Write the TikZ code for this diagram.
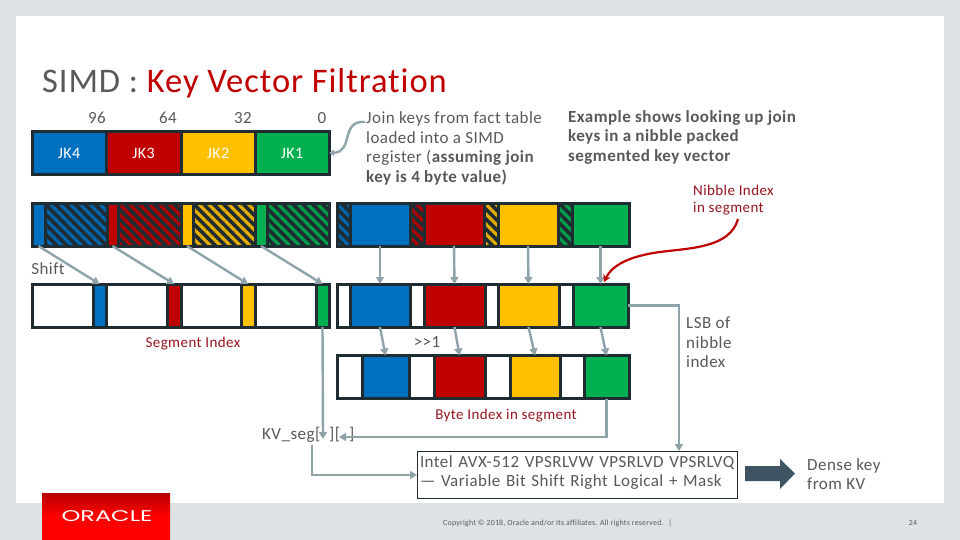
\documentclass[tikz,border=0pt]{standalone}
\usepackage{fontspec}
\setmainfont[LetterSpace=2.7, Ligatures=NoCommon]{Carlito}
\newfontfamily\logofont{Poppins}
\usepackage{tikz}
\usetikzlibrary{arrows.meta, patterns.meta}
\usepackage{xcolor}
\definecolor{slidegrey}{RGB}{221, 227, 229}
\definecolor{barframe}{RGB}{31, 45, 51}
\definecolor{barblue}{RGB}{0, 112, 192}
\definecolor{barred}{RGB}{192, 0, 0}
\definecolor{baryellow}{RGB}{255, 192, 0}
\definecolor{bargreen}{RGB}{0, 176, 80}
\definecolor{linkgrey}{RGB}{143, 163, 171}
\definecolor{bodygrey}{RGB}{89, 89, 89}
\definecolor{notered}{RGB}{150, 20, 30}
\definecolor{fatarrow}{RGB}{63, 84, 98}
\tikzset{
  cell/.style={draw=barframe, line width=3pt, outer sep=0pt, inner sep=0pt, anchor=west, minimum height=43pt},
  hatch/.style={cell, preaction={fill=barframe}, pattern={Lines[angle=-45, distance=7pt, line width=3.2pt]}},
  link/.style={draw=linkgrey, line width=2.4pt, -{Triangle[length=7pt, width=8pt]}},
  txt/.style={text=bodygrey, font=\fontsize{17}{19.5}\selectfont, inner sep=0pt, align=left},
  note/.style={text=notered, font=\fontsize{15}{17}\selectfont, inner sep=0pt, align=left},
}
\begin{document}
\begin{tikzpicture}[x=1pt, y=-1pt]
  \useasboundingbox (0,0) rectangle (960,540);
  \fill[slidegrey] (0,0) rectangle (960,540);
  \fill[white] (16,16) rectangle (944,503);
  \fill[top color=barred!95!black, bottom color=red, middle color=red] (42,493) rectangle (170,540);
  \node[text=white, font=\logofont\fontsize{15.5}{16}\selectfont, inner sep=0pt, xscale=1.55, transform shape] (logo) at (107,516.5) {ORACLE};

  % title
  \node[anchor=west, inner sep=0pt, text=bodygrey, font=\fontsize{34.5}{40}\selectfont] (title) at (42,83)
    {SIMD : \textcolor{barred}{Key Vector Filtration}};

  % bit offsets
  \node[txt] (offa) at (97,118) {96};
  \node[txt] (offb) at (168,118) {64};
  \node[txt] (offc) at (243,118) {32};
  \node[txt] (offd) at (322,118) {0};

  % join key register
  \foreach \nm/\xa/\xb/\col/\lab in {jkd/32/106/barblue/JK4, jkc/106/181/barred/JK3, jkb/181/255/baryellow/JK2, jka/255/329/bargreen/JK1}
    \node[cell, fill=\col, text=white, font=\fontsize{16}{18}\selectfont, minimum width={(\xb-\xa)*1pt}] (\nm) at (\xa,153) {\lab};

  % fact table vector, left half
  \foreach \xa/\xb/\col in {45/107/barblue, 118/181/barred, 193/255/baryellow, 267/329/bargreen}
    \node[hatch, pattern color=\col!90!black, minimum width={(\xb-\xa)*1pt}] at (\xa,224.5) {};
  \foreach \nm/\xa/\xb/\col in {hbd/32/45/barblue, hbc/107/118/barred, hbb/181/193/baryellow, hba/255/267/bargreen}
    \node[cell, fill=\col, minimum width={(\xb-\xa)*1pt}] (\nm) at (\xa,224.5) {};

  % fact table vector, right half
  \foreach \xa/\xb/\col in {337/350/barblue, 410/424/barred, 484/498/baryellow, 558/572/bargreen}
    \node[hatch, pattern color=\col!90!black, minimum width={(\xb-\xa)*1pt}] at (\xa,224.5) {};
  \foreach \nm/\xa/\xb/\col in {rbd/350/410/barblue, rbc/424/484/barred, rbb/498/558/baryellow, rba/572/629/bargreen}
    \node[cell, fill=\col, minimum width={(\xb-\xa)*1pt}] (\nm) at (\xa,224.5) {};

  % shifted vector, left half
  \foreach \xa/\xb in {32/93, 106/167, 181/241, 255/316}
    \node[cell, fill=white, minimum width={(\xb-\xa)*1pt}] at (\xa,305.5) {};
  \foreach \nm/\xa/\xb/\col in {sgd/93/106/barblue, sgc/167/181/barred, sgb/241/255/baryellow, sga/316/329/bargreen}
    \node[cell, fill=\col, minimum width={(\xb-\xa)*1pt}] (\nm) at (\xa,305.5) {};

  % shifted vector, right half
  \foreach \xa/\xb in {337/350, 410/424, 485/498, 559/573}
    \node[cell, fill=white, minimum width={(\xb-\xa)*1pt}] at (\xa,305.5) {};
  \foreach \nm/\xa/\xb/\col in {nbd/350/410/barblue, nbc/424/485/barred, nbb/498/559/baryellow, nba/573/628/bargreen}
    \node[cell, fill=\col, minimum width={(\xb-\xa)*1pt}] (\nm) at (\xa,305.5) {};

  % byte index vector
  \foreach \xa/\xb in {337/362, 409/434, 485/510, 560/584}
    \node[cell, fill=white, minimum width={(\xb-\xa)*1pt}] at (\xa,377) {};
  \foreach \nm/\xa/\xb/\col in {bid/362/409/barblue, bic/434/485/barred, bib/510/560/baryellow, bia/584/629/bargreen}
    \node[cell, fill=\col, minimum width={(\xb-\xa)*1pt}] (\nm) at (\xa,377) {};

  % text
  \node[txt, anchor=west] (join) at (366,148.5) {Join keys from fact table\\loaded into a SIMD\\register (\textbf{assuming join}\\\textbf{key is 4 byte value)}};
  \node[txt, anchor=west, font=\fontsize{17}{19.5}\bfseries] (lookup) at (568,137) {Example shows looking up join\\keys in a nibble packed\\segmented key vector};
  \node[note, anchor=west] (nibble) at (693,200) {Nibble Index\\in segment};
  \node[txt] (shift) at (48,269) {Shift};
  \node[note] (segidx) at (193,343.5) {Segment Index};
  \node[txt] (shr) at (427,342) {>{}>1};
  \node[txt, anchor=west] (lsb) at (686,342.5) {LSB of\\nibble\\index};
  \node[note] (byteidx) at (506,416) {Byte Index in segment};
  \node[txt, anchor=west] (kvseg) at (262,435) {KV\_seg[\hspace{9pt}][\hspace{9pt}]};
  \node[draw=barframe, line width=1pt, anchor=north west, text=bodygrey, font=\fontsize{17}{19.5}\selectfont, text width=315pt, inner xsep=2.5pt, inner ysep=0pt, minimum height=47pt, align=left] (intel) at (417,451)
    {\mbox{Intel AVX-512 VPSRLVW VPSRLVD VPSRLVQ}\\--- Variable Bit Shift Right Logical + Mask\\[-12pt]\mbox{}};
  \node[txt, anchor=west] (dense) at (807,474) {Dense key\\from KV};
  \node[text=bodygrey, inner sep=0pt, font=\fontsize{7.9}{9}\selectfont, anchor=west] (copy) at (443,523) {Copyright © 2018, Oracle and/or its affiliates. All rights reserved. \ |};
  \node[text=bodygrey, inner sep=0pt, font=\fontsize{7.9}{9}\selectfont] (page) at (913,523) {24};

  % free ends
  \coordinate (kvin) at (323,439);
  \coordinate (kvbyte) at (339,437);
  \coordinate (kvout) at (312,445);
  \coordinate (lsbend) at (679,451);
  \coordinate (joinfrom) at (365,122);
  \coordinate (nibfrom) at (738,219);
  \coordinate (nibto) at (604,282);

  % connectors
  \foreach \src/\dst in {hbd/sgd, hbc/sgc, hbb/sgb, hba/sga, rbd/nbd, rbc/nbc, rbb/nbb, rba/nba, nbd/bid, nbc/bic, nbb/bib, nba/bia}
    \draw[link] (\src.south) -- (\dst.north);
  \draw[link] (sga.south) -- (kvin);
  \draw[link] (bia.south) |- (kvbyte);
  \draw[link] (kvout) |- (intel.west);
  \draw[link] (nba.east) -| (lsbend);
  \draw[link, -{Triangle[length=5pt, width=6pt]}] (joinfrom) .. controls (340,120) and (354,152) .. (jka.east);
  \draw[draw=barred, line width=2.2pt, -{Stealth[length=7pt, width=8pt]}] (nibfrom) .. controls (730,248) and (690,248) .. (660,252) .. controls (630,256) and (612,265) .. (nibto);

  % result arrow
  \fill[fatarrow] (745,466) -- (780,466) -- (780,459) -- (795,473.5) -- (780,489) -- (780,481) -- (745,481) -- cycle;
\end{tikzpicture}
\end{document}
